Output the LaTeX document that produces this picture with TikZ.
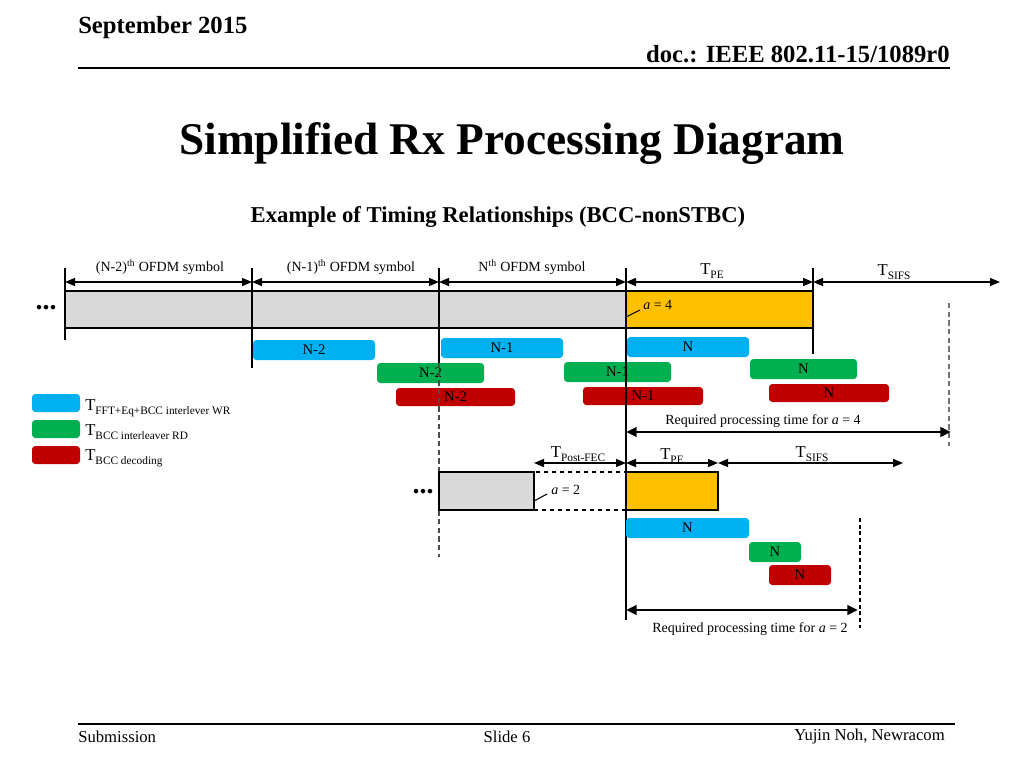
\documentclass[tikz,border=0pt]{standalone}
\usepackage{fontspec}
\setmainfont{Liberation Serif}
\usetikzlibrary{arrows.meta}
\definecolor{cblue}{HTML}{00B0F0}
\definecolor{cgreen}{HTML}{00B050}
\definecolor{cred}{HTML}{C00000}
\definecolor{corange}{HTML}{FFC000}
\definecolor{cgrey}{HTML}{D9D9D9}
\newcommand{\Tsub}[1]{{\fontsize{12.5}{14}\selectfont T}\raisebox{-3pt}{\fontsize{8.5}{10}\selectfont #1}}
\newcommand{\mkbar}[7]{\node[#6, minimum width={(#4-#2)*0.75pt}, minimum height={(#5-#3)*0.75pt}] (#1) at ({(#2+#4)/2},{(#3+#5)/2}) {#7};}
\tikzset{
  bar/.style={rounded corners=2.5pt, inner sep=0pt, outer sep=0pt, font=\fontsize{11}{12}\selectfont, text=black},
  bbar/.style={bar, fill=cblue},
  gbar/.style={bar, fill=cgreen},
  rbar/.style={bar, fill=cred},
  symbox/.style={draw=black, line width=1.1pt, fill=cgrey, inner sep=0pt, outer sep=0pt},
  pebox/.style={draw=black, line width=1.1pt, fill=corange, inner sep=0pt, outer sep=0pt},
  gapbox/.style={draw=black, line width=1pt, dashed, inner sep=0pt, outer sep=0pt},
  dim/.style={line width=1.1pt, {Triangle[length=7.5pt,width=6pt]}-{Triangle[length=7.5pt,width=6pt]}},
  req/.style={line width=2.2pt, {Triangle[length=8pt,width=7pt]}-{Triangle[length=8pt,width=7pt]}},
  tickline/.style={line width=1.1pt},
  dashline/.style={line width=0.9pt, black!70, dash pattern=on 4pt off 2.5pt},
  lbl/.style={font=\fontsize{10.5}{12}\selectfont, inner sep=0pt},
  tlbl/.style={inner sep=0pt},
  dots/.style={font=\fontsize{21}{21}\selectfont\bfseries, inner sep=0pt},
}
\begin{document}
\begin{tikzpicture}[x=0.75pt,y=-0.75pt]
\useasboundingbox (0,0) rectangle (1024,768);
% header
\node[anchor=base west, inner sep=0pt, font=\fontsize{18.5}{20}\selectfont\bfseries] (hdate) at (78,33) {September 2015};
\node[anchor=base east, inner sep=0pt, font=\fontsize{18.5}{20}\selectfont\bfseries] (hdoc) at (950,62) {doc.: IEEE 802.11-15/1089r0};
\coordinate (hl1) at (78,68); \coordinate (hl2) at (950,68);
\draw[line width=1.5pt] (hl1) -- (hl2);
\node[anchor=base, inner sep=0pt, font=\fontsize{34}{36}\selectfont\bfseries] (title) at (512,154) {Simplified Rx Processing Diagram};
\node[anchor=base, inner sep=0pt, font=\fontsize{17}{19}\selectfont\bfseries] (sub) at (498,222) {Example of Timing Relationships (BCC-nonSTBC)};
% footer
\coordinate (fl1) at (78,724); \coordinate (fl2) at (955,724);
\draw[line width=1.5pt] (fl1) -- (fl2);
\node[anchor=base west, inner sep=0pt, font=\fontsize{12.5}{14}\selectfont] (fsub) at (78,742) {Submission};
\node[anchor=base, inner sep=0pt, font=\fontsize{12.5}{14}\selectfont] (fslide) at (507,742) {Slide 6};
\node[anchor=base east, inner sep=0pt, font=\fontsize{12.5}{14}\selectfont] (fauth) at (945,740) {Yujin Noh, Newracom};

% top symbol boxes
\mkbar{sym1}{65}{291}{252}{328}{symbox}{}
\mkbar{sym2}{252}{291}{439}{328}{symbox}{}
\mkbar{sym3}{439}{291}{626}{328}{symbox}{}
\mkbar{pe4}{626}{291}{813}{328}{pebox}{}
\node[dots] (dots1) at (46,308) {...};

% ticks
\coordinate (t0a) at (65,268); \coordinate (t0b) at (65,340);
\coordinate (t1a) at (252,268); \coordinate (t1b) at (252,368);
\coordinate (t2a) at (439,268); \coordinate (t2b) at (439,363); \coordinate (t2c) at (439,557);
\coordinate (t3a) at (626,268); \coordinate (t3b) at (626,620);
\coordinate (t4a) at (813,268); \coordinate (t4b) at (813,354);
\draw[tickline] (t0a) -- (t0b);
\draw[tickline] (t1a) -- (t1b);
\draw[tickline] (t2a) -- (t2b);
\draw[dashline] (t2b) -- (t2c);
\draw[tickline] (t3a) -- (t3b);
\draw[tickline] (t4a) -- (t4b);

% top dimension arrows
\coordinate (d0) at (65,282); \coordinate (d1) at (252,282); \coordinate (d2) at (439,282);
\coordinate (d3) at (626,282); \coordinate (d4) at (813,282); \coordinate (d5) at (1000,282);
\draw[dim] (d0) -- (d1);
\draw[dim] (d1) -- (d2);
\draw[dim] (d2) -- (d3);
\draw[dim] (d3) -- (d4);
\draw[dim] (d4) -- (d5);
\node[lbl] (l1) at (160,267) {(N-2)\textsuperscript{th} OFDM symbol};
\node[lbl] (l2) at (351,267) {(N-1)\textsuperscript{th} OFDM symbol};
\node[lbl] (l3) at (532,267) {N\textsuperscript{th} OFDM symbol};
\node[tlbl] (l4) at (712,271) {\Tsub{PE}};
\node[tlbl] (l5) at (894,272) {\Tsub{SIFS}};

% a = 4
\coordinate (a4a) at (626,317); \coordinate (a4b) at (640,310);
\draw[line width=0.8pt] (a4a) -- (a4b);
\node[lbl, anchor=west] (a4) at (643,305) {\textit{a} = 4};

% bars (top)
\mkbar{b1}{253}{340}{375}{360}{bbar}{N-2}
\mkbar{b2}{441}{338}{563}{358}{bbar}{N-1}
\mkbar{b3}{627}{337}{749}{357}{bbar}{N}
\mkbar{g1}{377}{363}{484}{383}{gbar}{N-2}
\mkbar{g2}{564}{362}{671}{382}{gbar}{N-1}
\mkbar{g3}{750}{359}{857}{379}{gbar}{N}
\mkbar{r1}{396}{388}{515}{406}{rbar}{N-2}
\mkbar{r2}{583}{387}{703}{405}{rbar}{N-1}
\mkbar{r3}{769}{384}{889}{402}{rbar}{N}
% redraw lines through bars
\draw[dashline] (t2b) -- (t2c);
\draw[tickline] (t3a) -- (t3b);

% legend
\mkbar{lg1}{32}{394}{80}{412}{bbar}{}
\mkbar{lg2}{32}{420}{80}{438}{gbar}{}
\mkbar{lg3}{32}{446}{80}{464}{rbar}{}
\node[anchor=base west, inner sep=0pt] (lt1) at (85,410) {\Tsub{FFT+Eq+BCC interlever WR}};
\node[anchor=base west, inner sep=0pt] (lt2) at (85,435) {\Tsub{BCC interleaver RD}};
\node[anchor=base west, inner sep=0pt] (lt3) at (85,460) {\Tsub{BCC decoding}};

% required a=4
\coordinate (g4a) at (949,303); \coordinate (g4b) at (949,446);
\draw[dashline, black!55] (g4a) -- (g4b);
\coordinate (r4a) at (626,432); \coordinate (r4b) at (951,432);
\draw[req] (r4a) -- (r4b);
\node[lbl] (r4t) at (763,421) {Required processing time for \textit{a} = 4};

% second arrows
\coordinate (e0) at (534,463); \coordinate (e1) at (626,463); \coordinate (e2) at (718,463); \coordinate (e3) at (903,463);
\draw[dim] (e0) -- (e1);
\draw[dim] (e1) -- (e2);
\draw[dim] (e2) -- (e3);
\node[tlbl] (m1) at (578,454) {\Tsub{Post-FEC}};
\node[tlbl] (m2) at (672,456) {\Tsub{PE}};
\node[tlbl] (m3) at (812,454) {\Tsub{SIFS}};

% a = 2 row
\node[dots] (dots2) at (423,492) {...};
\mkbar{s2}{439}{472}{534}{510}{symbox}{}
\mkbar{gap2}{534}{472}{626}{510}{gapbox}{}
\mkbar{pe2}{626}{472}{718}{510}{pebox}{}
\coordinate (a2a) at (534,501); \coordinate (a2b) at (547,494);
\draw[line width=0.8pt] (a2a) -- (a2b);
\node[lbl, anchor=west] (a2) at (551,490) {\textit{a} = 2};
\draw[tickline] (t3a) -- (t3b);

\mkbar{b4}{626}{518}{749}{538}{bbar}{N}
\mkbar{g4}{749}{542}{801}{562}{gbar}{N}
\mkbar{r4}{769}{565}{831}{585}{rbar}{N}

\coordinate (g2a) at (860,518); \coordinate (g2b) at (860,628);
\draw[line width=0.8pt, dash pattern=on 3pt off 2pt] (g2a) -- (g2b);
\coordinate (r2a) at (626,610); \coordinate (r2b) at (858,610);
\draw[req] (r2a) -- (r2b);
\node[lbl] (r2t) at (750,629) {Required processing time for \textit{a} = 2};
\end{tikzpicture}
\end{document}
